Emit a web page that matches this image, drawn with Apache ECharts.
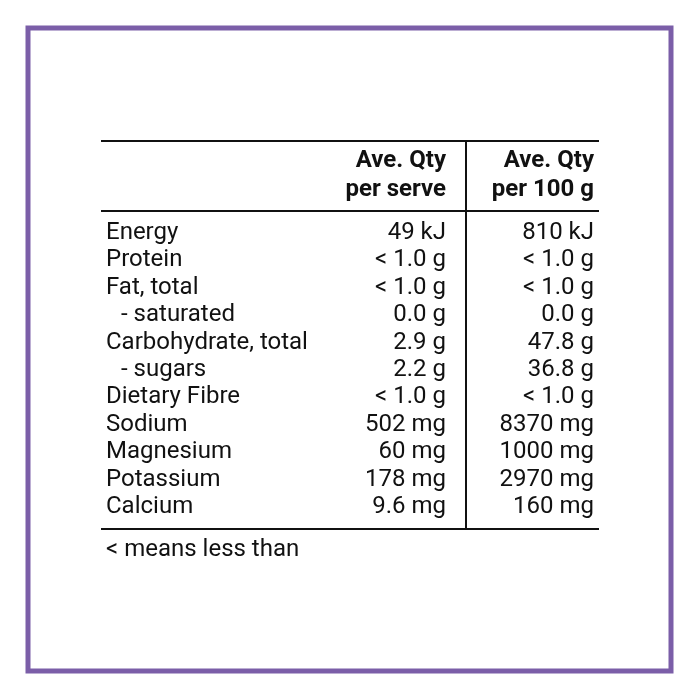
<!DOCTYPE html>
<html>
<head>
<meta charset="utf-8">
<script src="https://cdn.jsdelivr.net/npm/echarts@6/dist/echarts.min.js"></script>
<style>html,body{margin:0;padding:0;background:#fff}#main{width:700px;height:700px}</style>
</head>
<body>
<div id="main"></div>
<script>
// table data
const nutrients = ['Energy', 'Protein', 'Fat, total', '   - saturated', 'Carbohydrate, total', '   - sugars',
  'Dietary Fibre', 'Sodium', 'Magnesium', 'Potassium', 'Calcium'];
const perServe = ['49 kJ', '< 1.0 g', '< 1.0 g', '0.0 g', '2.9 g', '2.2 g', '< 1.0 g', '502 mg', '60 mg', '178 mg', '9.6 mg'];
const per100g = ['810 kJ', '< 1.0 g', '< 1.0 g', '0.0 g', '47.8 g', '36.8 g', '< 1.0 g', '8370 mg', '1000 mg', '2970 mg', '160 mg'];
const headerServe = ['Ave. Qty', 'per serve'];
const header100g = ['Ave. Qty', 'per 100 g'];
const footnote = '< means less than';

const font = 'Roboto, "Liberation Sans", sans-serif';
const size = 24;
const rowTop = 233, rowStep = 27.4;

function txt(x, y, s, align, bold) {
  return {
    type: 'text', x: x, y: y,
    style: { text: s, fill: '#111', font: (bold ? 'bold ' : '') + size + 'px ' + font,
      textAlign: align, textVerticalAlign: 'middle' }
  };
}
function line(x1, y1, x2, y2, w) {
  return { type: 'line', shape: { x1, y1, x2, y2 }, style: { stroke: '#111', lineWidth: w } };
}

const els = [
  { type: 'rect', shape: { x: 28, y: 28, width: 643, height: 643 },
    style: { fill: 'none', stroke: '#7b5ea8', lineWidth: 5 } },
  line(101, 141, 599, 141, 2),
  line(101, 211, 599, 211, 2),
  line(101, 529, 599, 529, 2),
  line(466, 141, 466, 529, 2)
];
headerServe.forEach((s, i) => els.push(txt(446, 161 + i * 29, s, 'right', true)));
header100g.forEach((s, i) => els.push(txt(594, 161 + i * 29, s, 'right', true)));
nutrients.forEach((n, i) => {
  const y = rowTop + i * rowStep;
  const indent = n.startsWith('   ');
  els.push(txt(indent ? 121 : 106, y, n.trim(), 'left', false));
  els.push(txt(446, y, perServe[i], 'right', false));
  els.push(txt(594, y, per100g[i], 'right', false));
});
els.push(txt(106, 550, footnote, 'left', false));

const chart = echarts.init(document.getElementById('main'));
chart.setOption({ backgroundColor: '#fff', graphic: { elements: els } });
</script>
</body>
</html>
